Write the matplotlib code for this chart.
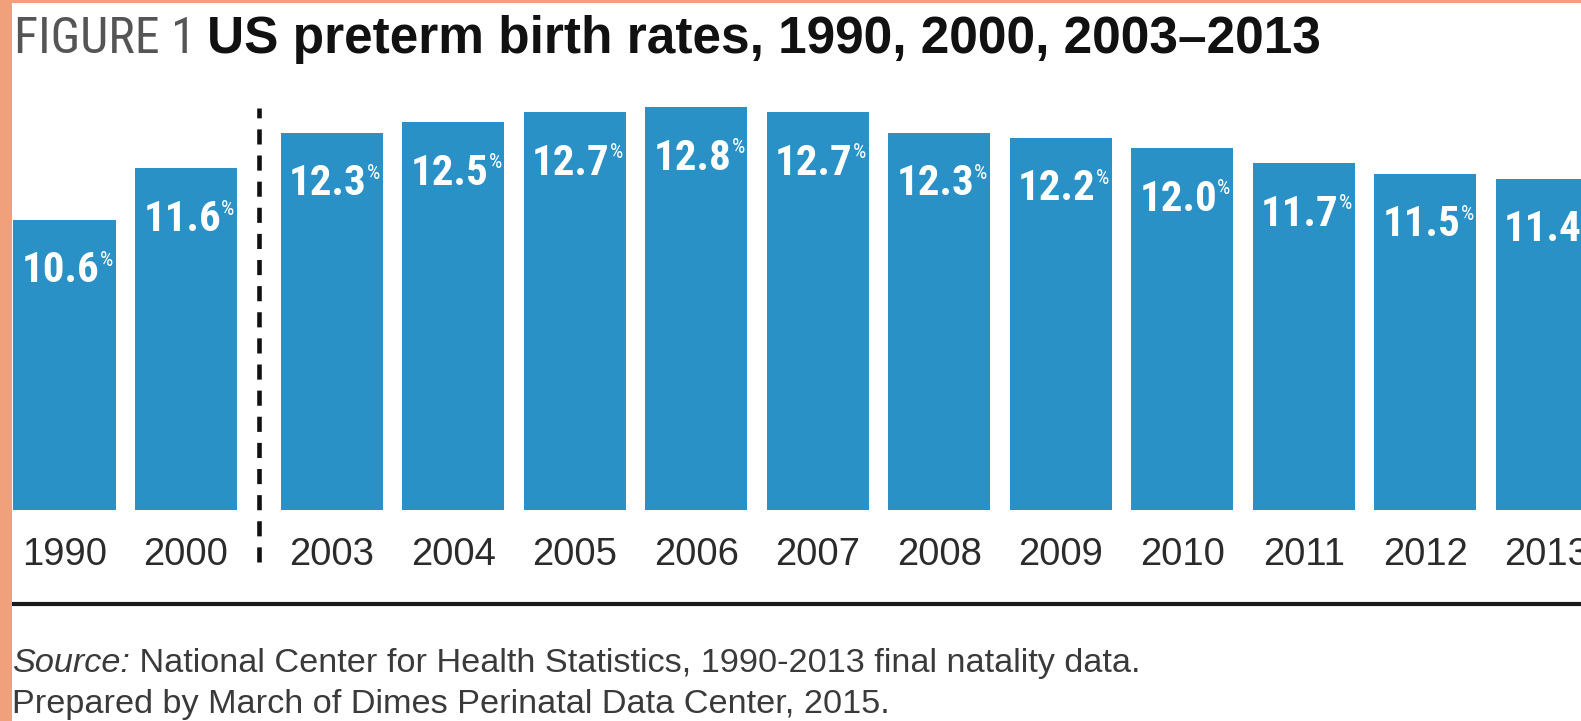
import matplotlib
matplotlib.use('Agg')
import matplotlib.pyplot as plt
from matplotlib import font_manager
from matplotlib.patches import Rectangle
from matplotlib.lines import Line2D
import numpy as np

years = ['1990', '2000', '2003', '2004', '2005', '2006', '2007',
         '2008', '2009', '2010', '2011', '2012', '2013']
rates = [10.6, 11.6, 12.3, 12.5, 12.7, 12.8, 12.7, 12.3, 12.2, 12.0, 11.7, 11.5, 11.4]

title_tag = 'FIGURE 1'
title_text = 'US preterm birth rates, 1990, 2000, 2003–2013'
source_lead = 'Source:'
source_rest = ' National Center for Health Statistics, 1990-2013 final natality data.'
source_line2 = 'Prepared by March of Dimes Perinatal Data Center, 2015.'


def pick_font(names):
    for n in names:
        try:
            font_manager.findfont(font_manager.FontProperties(family=n),
                                  fallback_to_default=False)
            return n
        except Exception:
            pass
    return 'DejaVu Sans'


narrow = pick_font(['Liberation Sans Narrow', 'Roboto Condensed', 'DejaVu Sans'])
sans = pick_font(['Liberation Sans', 'Arial', 'DejaVu Sans'])

W, H = 1581, 721
blue = '#2991c6'
orange = '#f1a07c'

fig = plt.figure(figsize=(W / 100, H / 100), dpi=100)
fig.patch.set_facecolor('white')

# bar layout: gap after 2000 for the dashed divider
pos = np.concatenate([np.arange(2), 2.2 + np.arange(len(years) - 2)])
bw = 0.84

ax = fig.add_axes([0, 1 - 510 / H, 1, 420 / H])
ax.set_xlim(-64.5 / 121.5, (W - 64.5) / 121.5)
ax.set_ylim(4.93, 4.93 + 420 / 51.2)
ax.axis('off')

ax.bar(pos, rates, width=bw, color=blue, zorder=2)

num_fs = 31
base_off = -45  # points below bar top
labels = []
for p, v, y in zip(pos, rates, years):
    t = ax.annotate(f'{v:.1f}', xy=(p - bw / 2, v), xytext=(6, base_off),
                    textcoords='offset points', ha='left', va='baseline',
                    color='white', fontsize=num_fs, family=narrow, fontweight='bold',
                    zorder=3)
    labels.append(t)
    ax.text(p, -55 / 420, y, transform=ax.get_xaxis_transform(),
            ha='center', va='baseline', fontsize=27.5, family=sans,
            color='#2b2b2b')

# small % signs after each number
fig.canvas.draw()
r = fig.canvas.get_renderer()
for p, v, t in zip(pos, rates, labels):
    wpt = t.get_window_extent(r).width * 72 / fig.dpi
    ax.annotate('%', xy=(p - bw / 2, v), xytext=(6 + wpt, base_off + num_fs * 0.73),
                textcoords='offset points', ha='left', va='top',
                color='white', fontsize=15, family=narrow, zorder=3)

# dashed divider between 2000 and 2003
ax.axvline((pos[1] + pos[2]) / 2, ymin=-52 / 420, ymax=402 / 420,
           color='#111111', lw=3.3, linestyle=(0, (3.3, 2.4)), clip_on=False)

# title
fig.text(14 / W, 1 - 53 / H, title_tag, ha='left', va='baseline',
         fontsize=36, family=narrow, color='#555555')
fig.text(207 / W, 1 - 53 / H, title_text, ha='left', va='baseline',
         fontsize=37, family=sans, fontweight='bold', color='#111111')

# rule above the source
fig.add_artist(Line2D([12 / W, 1], [1 - 604 / H, 1 - 604 / H],
                      transform=fig.transFigure, color='#1a1a1a', lw=3))

# source lines
s1 = fig.text(12 / W, 1 - 672 / H, source_lead, ha='left', va='baseline',
              fontsize=24.7, family=sans, style='italic', color='#3a3a3a')
fig.add_artist(matplotlib.text.Annotation(
    source_rest, xy=(1, 0), xycoords=s1, ha='left', va='bottom',
    fontsize=24.7, family=sans, color='#3a3a3a'))
fig.text(12 / W, 1 - 713 / H, source_line2, ha='left', va='baseline',
         fontsize=24.7, family=sans, color='#3a3a3a')

# salmon frame edges
fig.add_artist(Rectangle((0, 0), 12 / W, 1, transform=fig.transFigure,
                         color=orange, zorder=10, lw=0))
fig.add_artist(Rectangle((0, 1 - 3 / H), 1, 3 / H, transform=fig.transFigure,
                         color=orange, zorder=10, lw=0))

fig.savefig('out.png', dpi=100)
